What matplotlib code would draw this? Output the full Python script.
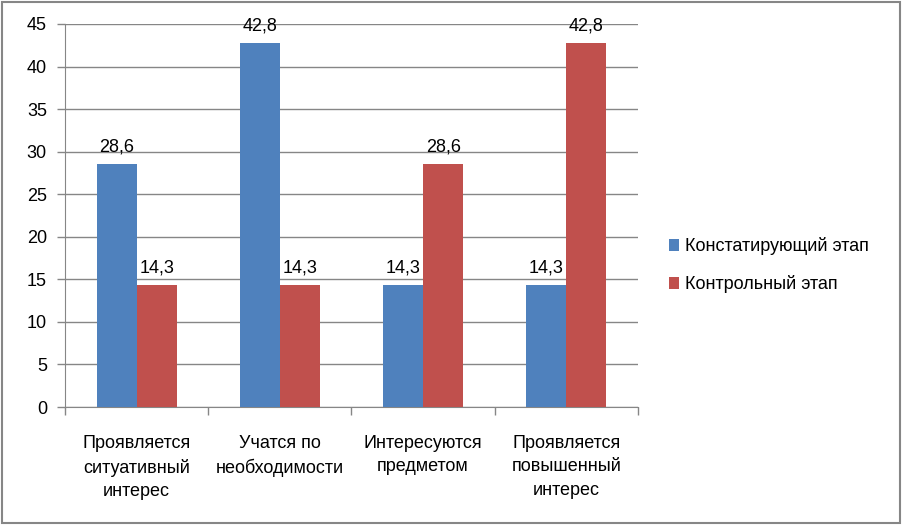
import numpy as np
import matplotlib.pyplot as plt
from matplotlib.patches import Rectangle

# ── data ─────────────────────────────────────────────────────────────
CATEGORIES = [
    "Проявляется\nситуативный\nинтерес",
    "Учатся по\nнеобходимости",
    "Интересуются\nпредметом",
    "Проявляется\nповышенный\nинтерес",
]
SERIES_NAMES = ["Констатирующий этап", "Контрольный этап"]
STATED = [28.6, 42.8, 14.3, 14.3]
CONTROL = [14.3, 14.3, 28.6, 42.8]

BLUE = "#4F81BD"
RED = "#C0504D"
GRID = "#868686"
FS = 13

plt.rcParams["font.family"] = ["Liberation Sans", "DejaVu Sans"]

fig = plt.figure(figsize=(9.03, 5.26), dpi=100)
ax = fig.add_axes([0.072, 0.2262, 0.6345, 0.7282])

x = np.arange(len(CATEGORIES))
w = 0.28
b1 = ax.bar(x - w / 2, STATED, w, color=BLUE, label=SERIES_NAMES[0], zorder=3)
b2 = ax.bar(x + w / 2, CONTROL, w, color=RED, label=SERIES_NAMES[1], zorder=3)

for bars, vals in ((b1, STATED), (b2, CONTROL)):
    for rect, v in zip(bars, vals):
        ax.annotate(f"{v:.1f}".replace(".", ","),
                    (rect.get_x() + rect.get_width() / 2, v),
                    xytext=(0, 6), textcoords="offset points",
                    ha="center", va="bottom", fontsize=FS)

ax.set_xlim(-0.5, len(CATEGORIES) - 0.5)
ax.set_ylim(0, 45)
ax.set_yticks(np.arange(0, 46, 5))
ax.yaxis.grid(True, color=GRID, lw=1, zorder=0)
ax.set_axisbelow(True)

ax.set_xticks(x)
ax.set_xticklabels(CATEGORIES, fontsize=FS, linespacing=1.5)
ax.tick_params(axis="x", length=0, pad=20)
ax.set_xticks(np.arange(-0.5, len(CATEGORIES)), minor=True)
ax.tick_params(axis="x", which="minor", length=6, color=GRID, width=1)
ax.tick_params(axis="y", length=6, color=GRID, width=1, labelsize=FS, pad=7)

for side in ("top", "right"):
    ax.spines[side].set_visible(False)
for side in ("left", "bottom"):
    ax.spines[side].set_color(GRID)

ax.legend(loc="center left", bbox_to_anchor=(1.025, 0.37), frameon=False,
          fontsize=FS, handlelength=0.6, handleheight=0.6,
          labelspacing=1.1, handletextpad=0.3)

# outer chart border
fig.patches.append(Rectangle((0.002, 0.006), 0.995, 0.991,
                             transform=fig.transFigure, fill=False,
                             edgecolor="#868686", lw=1.5))

fig.savefig("out.png", dpi=100)
